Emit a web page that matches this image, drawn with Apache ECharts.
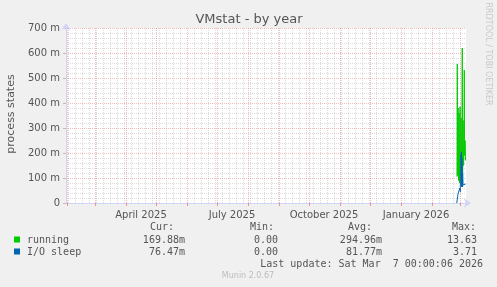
<!DOCTYPE html>
<html><head><meta charset="utf-8">
<script src="https://cdn.jsdelivr.net/npm/echarts@6/dist/echarts.min.js"></script>
<style>html,body{margin:0;padding:0;background:#f0f0f0}#c{width:497px;height:287px}</style>
</head><body><div id="c"></div>
<script>
// ---- data ----
const titleText = 'VMstat - by year';
const yAxisName = 'process states';
const xTickLabels = ['April 2025', 'July 2025', 'October 2025', 'January 2026'];
const xTickLabelDates = ['2025-04-16T00:00:00Z', '2025-07-16T00:00:00Z', '2025-10-16T00:00:00Z', '2026-01-16T00:00:00Z'];
const yTickValues = [0, 100, 200, 300, 400, 500, 600, 700]; // milli
const rangeEnd = '2026-03-07T00:00:06Z';
const rangeDays = 400;

const runningTimes = ['2026-02-26T00:00Z','2026-02-26T07:00Z','2026-02-26T14:00Z','2026-02-27T02:00Z','2026-02-27T14:00Z','2026-02-28T02:00Z','2026-02-28T14:00Z','2026-03-01T02:00Z','2026-03-01T14:00Z','2026-03-02T02:00Z','2026-03-02T14:00Z','2026-03-03T00:00Z','2026-03-03T07:00Z','2026-03-03T14:00Z','2026-03-04T02:00Z','2026-03-04T14:00Z','2026-03-05T00:00Z','2026-03-05T07:00Z','2026-03-05T14:00Z','2026-03-06T02:00Z','2026-03-06T14:00Z'];
const runningValues = [105, 556, 110, 380, 90, 360, 80, 385, 95, 340, 70, 300, 620, 64, 330, 150, 230, 532, 190, 250, 170];

const ioTimes = ['2026-02-25T18:00Z','2026-02-26T07:00Z','2026-02-26T14:00Z','2026-02-27T00:00Z','2026-02-27T14:00Z','2026-02-28T00:00Z','2026-02-28T14:00Z','2026-03-01T00:00Z','2026-03-01T07:00Z','2026-03-01T14:00Z','2026-03-02T00:00Z','2026-03-02T07:00Z','2026-03-02T14:00Z','2026-03-03T00:00Z','2026-03-03T07:00Z','2026-03-03T14:00Z','2026-03-04T00:00Z','2026-03-04T14:00Z','2026-03-05T00:00Z','2026-03-05T14:00Z','2026-03-06T00:00Z','2026-03-06T14:00Z'];
const ioValues = [0, 15, 25, 35, 45, 52, 40, 60, 45, 190, 70, 204, 65, 180, 64, 120, 72, 80, 70, 78, 72, 76];

const seriesNames = ['running', 'I/O sleep'];
const seriesColors = ['#00cc00', '#0066b3'];
const legendHeaders = ['Cur:', 'Min:', 'Avg:', 'Max:'];
const legendCur = ['169.88m', '76.47m'];
const legendMin = ['0.00', '0.00'];
const legendAvg = ['294.96m', '81.77m'];
const legendMax = ['13.63', '3.71'];
const lastUpdate = 'Last update: Sat Mar  7 00:00:06 2026';
const footer = 'Munin 2.0.67';
const sideText = 'RRDTOOL / TOBI OETIKER';

// ---- build ----
const DAY = 86400000;
const tEnd = Date.parse(rangeEnd);
const tStart = tEnd - rangeDays * DAY;
const labelTs = xTickLabelDates.map(d => Date.parse(d));

const monthStarts = [];
{
  const s = new Date(tStart);
  let y = s.getUTCFullYear(), m = s.getUTCMonth() + 1;
  while (true) {
    const t = Date.UTC(y, m, 1);
    if (t > tEnd) break;
    monthStarts.push(t);
    m++; if (m > 11) { m = 0; y++; }
  }
}
const weekStarts = [];
{
  let t = Date.UTC(2025, 1, 2);
  while (t < tEnd) { if (t > tStart) weekStarts.push(t); t += 7 * DAY; }
}

const running = runningTimes.map((t, i) => [Date.parse(t), runningValues[i]]);
const io = ioTimes.map((t, i) => [Date.parse(t), ioValues[i]]);

const fontColor = '#555';
const mono = "'DejaVu Sans Mono', monospace";
const sans = "'DejaVu Sans', sans-serif";
const majorColor = 'rgba(225,90,90,0.4)';
const minorColor = 'rgba(140,140,140,0.3)';
const axisColor = '#d0d4f6';

const chart = echarts.init(document.getElementById('c'), null, { renderer: 'canvas' });

const graphics = [
  { type: 'text', x: 249, y: 20, style: { text: titleText, font: '13px ' + sans, fill: fontColor, align: 'center', verticalAlign: 'middle' } },
  { type: 'text', x: 11, y: 114, rotation: Math.PI / 2, style: { text: yAxisName, font: '11px ' + sans, fill: fontColor, align: 'center', verticalAlign: 'middle' } },
  { type: 'text', x: 488, y: 54, rotation: -Math.PI / 2, style: { text: sideText, font: '8px ' + sans, fill: '#c8c8c8', align: 'center', verticalAlign: 'middle' } },
  { type: 'text', x: 248, y: 276, style: { text: footer, font: '8px ' + sans, fill: '#bdbdbd', align: 'center', verticalAlign: 'middle' } }
];
const headerX = [150, 250, 348, 452];
legendHeaders.forEach((h, i) => graphics.push({ type: 'text', x: headerX[i], y: 227, style: { text: h, font: '10px ' + mono, fill: fontColor, align: 'left', verticalAlign: 'middle' } }));
const rowY = [240, 252];
const colRight = [185, 278, 382, 477];
seriesNames.forEach((n, i) => {
  graphics.push({ type: 'rect', shape: { x: 14, y: rowY[i] - 3.5, width: 6, height: 6 }, style: { fill: seriesColors[i] } });
  graphics.push({ type: 'text', x: 27, y: rowY[i], style: { text: n, font: '10px ' + mono, fill: fontColor, align: 'left', verticalAlign: 'middle' } });
  [legendCur, legendMin, legendAvg, legendMax].forEach((arr, j) => {
    graphics.push({ type: 'text', x: colRight[j], y: rowY[i], style: { text: arr[i], font: '10px ' + mono, fill: fontColor, align: 'right', verticalAlign: 'middle' } });
  });
});
graphics.push({ type: 'text', x: 483, y: 264, style: { text: lastUpdate, font: '10px ' + mono, fill: fontColor, align: 'right', verticalAlign: 'middle' } });

const gridLineSeries = {
  type: 'line', data: [[tStart, 0]], symbol: 'none', lineStyle: { opacity: 0 }, silent: true, z: 1,
  markLine: {
    silent: true, symbol: 'none', label: { show: false }, animation: false,
    data: [
      ...weekStarts.filter(t => !monthStarts.includes(t)).map(t => ({ xAxis: t, lineStyle: { color: minorColor, type: [1, 1], width: 1 } })),
      ...monthStarts.map(t => ({ xAxis: t, lineStyle: { color: majorColor, type: [1, 1], width: 1 } }))
    ]
  }
};

chart.setOption({
  animation: false,
  backgroundColor: '#f0f0f0',
  grid: { left: 66, right: 31, top: 28, bottom: 84, show: true, backgroundColor: '#ffffff', borderWidth: 0 },
  graphic: graphics,
  xAxis: {
    type: 'value', min: tStart, max: tEnd,
    axisLine: { show: true, lineStyle: { color: axisColor, width: 1 }, symbol: ['none', 'arrow'], symbolSize: [7, 7], symbolOffset: [0, 5] },
    axisTick: { show: true, customValues: monthStarts, length: 3, lineStyle: { color: 'rgba(225,90,90,0.6)' } },
    axisLabel: { show: true, customValues: labelTs, formatter: v => { const i = labelTs.indexOf(v); return i >= 0 ? xTickLabels[i] : ''; }, color: fontColor, fontFamily: sans, fontSize: 10, margin: 7 },
    splitLine: { show: false }
  },
  yAxis: {
    type: 'value', min: 0, max: 700, interval: 100,
    axisLine: { show: true, lineStyle: { color: axisColor, width: 1 }, symbol: ['none', 'arrow'], symbolSize: [7, 7], symbolOffset: [0, 5] },
    axisTick: { show: true, length: 3, lineStyle: { color: '#bbb' } },
    axisLabel: { color: fontColor, fontFamily: sans, fontSize: 10, margin: 6, formatter: v => v === 0 ? '0' : v + ' m' },
    splitLine: { show: true, lineStyle: { color: majorColor, type: [1, 1], width: 1 } },
    minorTick: { show: false, splitNumber: 5 },
    minorSplitLine: { show: true, lineStyle: { color: minorColor, type: [1, 1], width: 1 } }
  },
  series: [
    gridLineSeries,
    { name: seriesNames[0], type: 'line', data: running, symbol: 'none', lineStyle: { color: seriesColors[0], width: 1 }, z: 3 },
    { name: seriesNames[1], type: 'line', data: io, symbol: 'none', lineStyle: { color: seriesColors[1], width: 1 }, z: 4 }
  ]
});
</script></body></html>
